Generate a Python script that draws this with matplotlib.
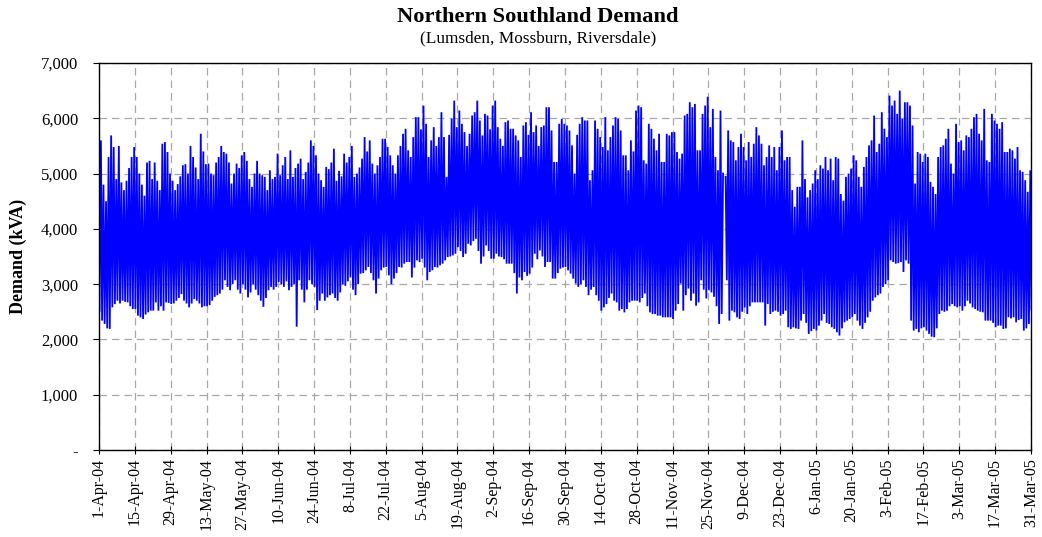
import numpy as np
import pandas as pd
import matplotlib
matplotlib.use("Agg")
import matplotlib.pyplot as plt
from matplotlib.ticker import FuncFormatter, MultipleLocator

# Daily demand extremes (kVA), one row per week starting 1-Apr-2004
DAILY_PEAK_KVA = [
    5600, 4800, 4500, 5300, 5690, 5480, 4900,
    5500, 4840, 4700, 4870, 5100, 5300, 5480,
    5300, 5000, 4800, 4600, 5200, 5230, 4900,
    5200, 4870, 4700, 5540, 5570, 5390, 5000,
    4870, 4700, 4810, 4950, 5150, 5170, 5000,
    5500, 5300, 5110, 4900, 5720, 5400, 5170,
    5180, 5000, 4970, 5200, 5300, 5500, 5390,
    5360, 5200, 4820, 5000, 5180, 5100, 5330,
    5390, 5230, 4900, 4760, 5000, 5230, 5000,
    4970, 4940, 4700, 5060, 4900, 4940, 5360,
    4970, 5150, 5300, 4900, 5420, 4940, 5100,
    5180, 5270, 4900, 5030, 5200, 5600, 5500,
    5330, 5000, 4880, 4760, 5120, 5080, 5200,
    5450, 4870, 5050, 4950, 5360, 5200, 5300,
    5500, 4940, 5000, 5110, 5270, 5660, 5400,
    5600, 5180, 5000, 5150, 5300, 5630, 5630,
    5480, 5330, 5150, 5000, 5330, 5500, 5720,
    5810, 5420, 5300, 5660, 6020, 6020, 5800,
    6230, 5900, 5300, 5600, 5840, 5500, 5660,
    6110, 5660, 4940, 5700, 5990, 6320, 5840,
    6140, 5900, 5750, 5500, 5720, 6050, 6110,
    6320, 5960, 5690, 6080, 6050, 5800, 6230,
    6320, 5840, 5630, 5500, 5930, 5960, 5810,
    5810, 5690, 5600, 5300, 5870, 5930, 5700,
    6110, 5750, 5870, 5500, 5840, 5870, 6200,
    6200, 5780, 5210, 5210, 5900, 5990, 5900,
    5870, 5780, 5510, 5000, 5700, 5900, 6020,
    5960, 5960, 4880, 5060, 5960, 5810, 5660,
    5480, 6020, 5420, 5660, 5870, 6020, 5990,
    5780, 5330, 5330, 5060, 5600, 5400, 6140,
    6230, 6200, 5240, 5180, 5900, 5810, 5630,
    5420, 5720, 5210, 5210, 5720, 5690, 5750,
    5750, 5390, 5270, 5360, 6050, 6080, 6290,
    6200, 6260, 5420, 5420, 6080, 6230, 6390,
    5840, 6170, 5300, 5060, 6140, 5000, 4940,
    5780, 5600, 5570, 5240, 5480, 5720, 5480,
    5240, 5570, 5300, 5540, 5840, 5690, 5540,
    5150, 5300, 5510, 5300, 5480, 5060, 5480,
    5780, 5240, 5300, 5300, 4700, 4400, 4760,
    4760, 5600, 4900, 4570, 4700, 4820, 5060,
    4900, 5150, 5090, 5300, 5060, 5270, 4880,
    5300, 5270, 4630, 4510, 4940, 5000, 5090,
    5330, 5240, 4940, 4760, 5120, 5300, 5510,
    5600, 6050, 5390, 5540, 6110, 5810, 5660,
    6410, 6230, 6320, 6080, 6500, 5990, 6290,
    6290, 6230, 5870, 4820, 5390, 5360, 5210,
    5360, 5300, 4850, 4760, 4630, 5300, 5480,
    5510, 5630, 5810, 5180, 5000, 5900, 5570,
    5600, 5420, 5690, 5660, 5810, 6020, 6080,
    5720, 5600, 6170, 5240, 5210, 6080, 5960,
    5900, 5810, 5930, 5390, 5390, 5450, 5420,
    5270, 5480, 5060, 5030, 4880, 4670, 5060,
    5870,
]

DAILY_TROUGH_KVA = [
    2520, 2340, 2280, 2200, 2190, 2580, 2640,
    2700, 2650, 2700, 2680, 2670, 2600, 2550,
    2550, 2430, 2400, 2370, 2450, 2490, 2520,
    2520, 2670, 2520, 2600, 2520, 2670, 2660,
    2640, 2650, 2700, 2750, 2820, 2700, 2650,
    2580, 2650, 2730, 2700, 2650, 2580, 2600,
    2600, 2620, 2700, 2770, 2800, 2830, 2900,
    3070, 2950, 2890, 3000, 3070, 2900, 2830,
    3000, 2900, 2760, 2850, 3000, 2900, 2800,
    2700, 2590, 2750, 2890, 2950, 2900, 2950,
    3040, 3000, 2950, 3050, 2890, 2950, 3000,
    2230, 3070, 2900, 2670, 2900, 3070, 3000,
    2950, 2530, 2700, 2830, 2700, 2760, 2800,
    2830, 2750, 2700, 2850, 3000, 2970, 3050,
    3120, 2900, 2800, 3000, 3190, 3200, 3250,
    3310, 3200, 3070, 2830, 3100, 3250, 3300,
    3310, 3160, 3000, 3100, 3200, 3310, 3300,
    3370, 3400, 3400, 3120, 3300, 3430, 3400,
    3460, 3300, 3070, 3220, 3250, 3310, 3300,
    3340, 3370, 3430, 3490, 3500, 3520, 3550,
    3670, 3600, 3490, 3550, 3730, 3700, 3780,
    3820, 3600, 3370, 3500, 3700, 3600, 3460,
    3460, 3550, 3500, 3490, 3450, 3370, 3370,
    3370, 3200, 2830, 3120, 3070, 3220, 3150,
    3190, 3300, 3550, 3450, 3610, 3500, 3310,
    3400, 3400, 3100, 3100, 3200, 3280, 3300,
    3310, 3250, 3190, 3100, 3010, 2950, 3000,
    3070, 2950, 2800, 2900, 2950, 2800, 2700,
    2520, 2580, 2640, 2750, 2830, 2700, 2670,
    2520, 2550, 2490, 2550, 2670, 2700, 2700,
    2700, 2670, 2750, 2830, 2600, 2490, 2460,
    2460, 2430, 2430, 2400, 2400, 2400, 2400,
    2370, 2520, 2640, 3010, 2520, 2800, 2920,
    2700, 2830, 2610, 2670, 3070, 2900, 2740,
    2890, 2850, 2770, 2600, 2280, 2460, np.nan,
    3070, 2340, 2520, 2490, 2400, 2370, 2500,
    2580, 2460, 2600, 2670, 2670, 2670, 2670,
    2670, 2250, 2640, 2460, 2500, 2520, 2500,
    2430, 2460, 2520, 2220, 2190, 2220, 2200,
    2190, 2340, 2460, 2300, 2100, 2150, 2190,
    2160, 2250, 2340, 2460, 2300, 2280, 2220,
    2190, 2130, 2070, 2200, 2310, 2340, 2370,
    2400, 2460, 2340, 2250, 2190, 2300, 2400,
    2500, 2700, 2760, 2800, 2830, 2950, 3000,
    3070, 3430, 3400, 3370, 3380, 3400, 3220,
    3430, 3370, 2340, 2160, 2190, 2130, 2200,
    2220, 2160, 2100, 2050, 2040, 2200, 2460,
    2520, 2500, 2520, 2600, 2640, 2600, 2580,
    2600, 2520, 2600, 2700, 2650, 2580, 2550,
    2520, 2500, 2490, 2340, 2340, 2340, 2300,
    2220, 2250, 2250, 2190, 2200, 2400, 2380,
    2400, 2310, 2350, 2370, 2160, 2200, 2280,
    2520,
]

START_DATE = "2004-04-01"
END_DATE = "2005-03-31"
TICK_STEP_DAYS = 14

TITLE = "Northern Southland Demand"
SUBTITLE = "(Lumsden, Mossburn, Riversdale)"
Y_LABEL = "Demand (kVA)"

plt.rcParams["font.family"] = ["Liberation Serif", "DejaVu Serif"]

days = pd.date_range(START_DATE, periods=len(DAILY_PEAK_KVA), freq="D")
# overnight low followed by the evening peak for each day
times = []
values = []
for day, lo, hi in zip(days, DAILY_TROUGH_KVA, DAILY_PEAK_KVA):
    times.append(day + pd.Timedelta(hours=5))
    values.append(lo)
    times.append(day + pd.Timedelta(hours=18))
    values.append(hi)

fig = plt.figure(figsize=(10.42, 5.37), dpi=100)
ax = fig.add_axes([0.095, 0.162, 0.8944, 0.7207])

ax.plot(times, values, color="#0000FF", linewidth=1.3, solid_joinstyle="miter")

ax.set_ylim(0, 7000)
ax.set_xlim(pd.Timestamp(START_DATE), pd.Timestamp(END_DATE))

ax.yaxis.set_major_locator(MultipleLocator(1000))
ax.yaxis.set_major_formatter(FuncFormatter(lambda v, p: "-" if v == 0 else f"{v:,.0f}"))

tick_dates = pd.date_range(START_DATE, END_DATE, freq=f"{TICK_STEP_DAYS}D")
ax.set_xticks(tick_dates)
ax.set_xticklabels([f"{d.day}-{d.strftime('%b-%y')}" for d in tick_dates],
                   rotation=90, fontsize=11.5)
ax.tick_params(axis="y", labelsize=12, direction="out", length=4, width=0.8, pad=11)
ax.tick_params(axis="x", direction="inout", length=6, width=0.8, pad=3)

ax.grid(True, color="#a8a8a8", linestyle=(0, (6, 4)), linewidth=0.9)
ax.set_axisbelow(True)
for s in ax.spines.values():
    s.set_linewidth(1.0)
    s.set_color("black")

ax.set_ylabel(Y_LABEL, fontsize=13, fontweight="bold", labelpad=10)

fig.text(0.516, 0.968, TITLE, ha="center", va="center", fontsize=16.2, fontweight="bold")
fig.text(0.516, 0.928, SUBTITLE, ha="center", va="center", fontsize=12.4)

fig.savefig("out.png", dpi=100)
